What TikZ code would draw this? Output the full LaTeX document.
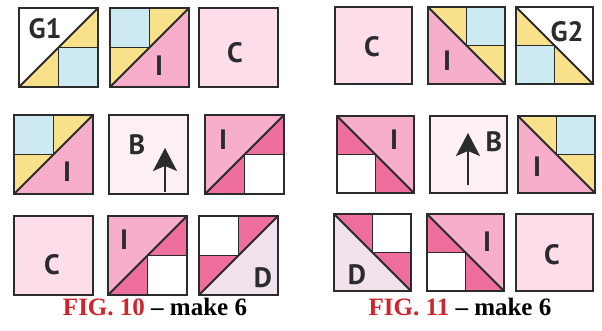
\documentclass[tikz,border=0pt]{standalone}
\usepackage{fontspec}
\setmainfont{Liberation Serif}
\newfontfamily\blockfont{PT Sans}
\usetikzlibrary{arrows.meta}

\definecolor{yel}{HTML}{F8E18A}
\definecolor{ltblue}{HTML}{CDEAF2}
\definecolor{ipink}{HTML}{F6AECB}
\definecolor{dkpink}{HTML}{EE6E9E}
\definecolor{cpink}{HTML}{FCDDE9}
\definecolor{bpink}{HTML}{FDF0F5}
\definecolor{lav}{HTML}{F1E2EE}
\definecolor{figred}{HTML}{D0232A}
\definecolor{ink}{HTML}{2B2B2B}

\tikzset{
  edge/.style={draw=ink, line width=2.8pt},
  seam/.style={draw=ink, line width=1.9pt},
  letter/.style={font=\blockfont\bfseries\fontsize{28}{28}\selectfont, text=ink, inner sep=0pt},
  caption/.style={font=\bfseries\fontsize{25}{25}\selectfont, inner sep=0pt, anchor=base},
  uparrow/.style={draw=ink, line width=1.7pt, -{Stealth[length=23pt,width=24pt,inset=5pt]}}
}

% plain half below the diagonal, pieced half above it
\newcommand{\upperpieced}[3]{
\fill[#1] (0,0) -- (1,0) -- (1,1) -- cycle;
\fill[#2] (0,.5) rectangle (.5,1);
\fill[#3] (0,0) -- (0,.5) -- (.5,.5) -- cycle;
\fill[#3] (.5,.5) -- (.5,1) -- (1,1) -- cycle;
\draw[seam] (0,.5) -- (.5,.5) -- (.5,1);
\draw[seam] (0,0) -- (1,1);
\draw[edge] (0,0) rectangle (1,1);
}

% plain half above the diagonal, pieced half below it
\newcommand{\lowerpieced}[3]{
\fill[#1] (0,0) -- (0,1) -- (1,1) -- cycle;
\fill[#2] (.5,0) rectangle (1,.5);
\fill[#3] (0,0) -- (.5,0) -- (.5,.5) -- cycle;
\fill[#3] (.5,.5) -- (1,.5) -- (1,1) -- cycle;
\draw[seam] (.5,0) -- (.5,.5) -- (1,.5);
\draw[seam] (0,0) -- (1,1);
\draw[edge] (0,0) rectangle (1,1);
}

\newcommand{\plainblock}[1]{
\fill[#1] (0,0) rectangle (1,1);
\draw[edge] (0,0) rectangle (1,1);
}

\newcommand{\blockG}{\lowerpieced{white}{ltblue}{yel}}
\newcommand{\blockIy}{\upperpieced{ipink}{ltblue}{yel}}
\newcommand{\blockIw}{\lowerpieced{ipink}{white}{dkpink}}
\newcommand{\blockD}{\upperpieced{lav}{white}{dkpink}}
\newcommand{\blockC}{\plainblock{cpink}}
\newcommand{\blockB}{\plainblock{bpink}}

\begin{document}
\begin{tikzpicture}[x=1pt,y=1pt]
\useasboundingbox (0,0) rectangle (602,330);

% Fig. 10 blocks
\foreach \x/\y/\b in {19/243/\blockG, 110/243/\blockIy, 199/243/\blockC,
                      14/136/\blockIy, 109/136/\blockB, 205/136/\blockIw,
                      14/35/\blockC, 108/35/\blockIw, 199/35/\blockD}
{
\begin{scope}[shift={(\x,\y)},scale=79]
\b
\end{scope}
}

% Fig. 11 blocks (mirrored)
\foreach \x/\y/\b in {335/246/\blockC, 428/246/\blockIy, 516/246/\blockG,
                      337/137/\blockIw, 430/137/\blockB, 518/137/\blockIy,
                      334/39/\blockD, 427/39/\blockIw, 516/39/\blockC}
{
\begin{scope}[shift={(\x+77,\y)},xscale=-77,yscale=77]
\b
\end{scope}
}

% Fig. 10 letters
\node[letter] (g1) at (45,301) {G1};
\node[letter] (i1) at (159,264) {I};
\node[letter] (c1) at (235,277) {C};
\node[letter] (i2) at (67,158) {I};
\node[letter] (b1) at (137,185) {B};
\node[letter] (i3) at (223,190) {I};
\node[letter] (c2) at (52,65) {C};
\node[letter] (i4) at (124,90) {I};
\node[letter] (d1) at (263,52) {D};

% Fig. 11 letters
\node[letter] (c3) at (372,283) {C};
\node[letter] (i5) at (447,269) {I};
\node[letter] (g2) at (567,298) {G2};
\node[letter] (i6) at (394,190) {I};
\node[letter] (b2) at (494,188) {B};
\node[letter] (i7) at (537,163) {I};
\node[letter] (d2) at (357,55) {D};
\node[letter] (i8) at (487,88) {I};
\node[letter] (c4) at (552,75) {C};

% Grain arrows
\coordinate (b1foot) at (165,138);
\coordinate (b1tip) at (165,182);
\draw[uparrow] (b1foot) -- (b1tip);
\coordinate (b2foot) at (468,145);
\coordinate (b2tip) at (468,197);
\draw[uparrow] (b2foot) -- (b2tip);

% Captions
\node[caption] (fig10) at (155,15) {\textcolor{figred}{FIG. 10} – make 6};
\node[caption] (fig11) at (460,15) {\textcolor{figred}{FIG. 11} – make 6};
\end{tikzpicture}
\end{document}
